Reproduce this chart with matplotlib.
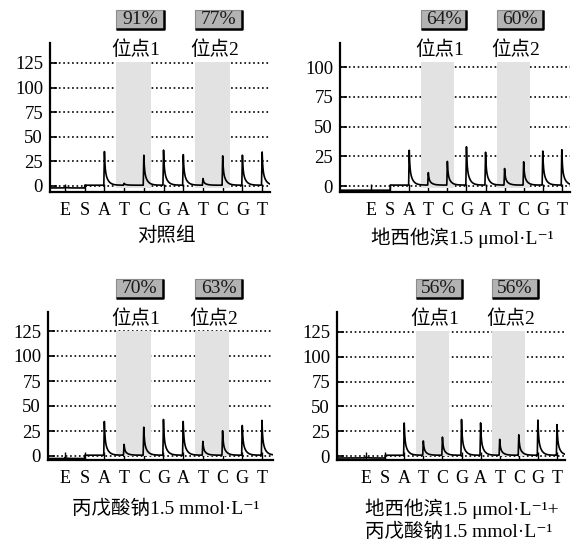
import numpy as np
import matplotlib
matplotlib.use('Agg')
import matplotlib.pyplot as plt
from matplotlib.patches import Rectangle
import matplotlib.transforms as mtransforms

plt.rcParams['font.family'] = ['Liberation Serif', 'Noto Sans CJK SC', 'DejaVu Serif']

# Dispensation order and peak heights
dispensations = ['E', 'S', 'A', 'T', 'C', 'G', 'A', 'T', 'C', 'G', 'T']
peaks_ctrl = [1, 0, 35, 2, 31, 36, 32, 7, 30, 31, 35]
peaks_dac = [0, 0, 30, 11, 20, 33, 29, 14, 20, 30, 30]
peaks_vpa = [1, 0, 34, 11, 29, 36, 35, 14, 25, 31, 35]
peaks_combo = [1, 0, 33, 15, 19, 37, 33, 16, 21, 37, 32]
pre_levels = [-2, -3.5, -2.5, -2]

site1_pct = ['91%', '64%', '70%', '56%']
site2_pct = ['77%', '60%', '63%', '56%']
site_labels = ['位点1', '位点2']
site_idx = [(3, 4), (7, 8)]   # T,C pairs in the dispensation order

yticks_ctrl = [0, 25, 50, 75, 100, 125]
yticks_dac = [0, 25, 50, 75, 100]
captions = ['对照组',
            '地西他滨1.5 μmol·L⁻¹',
            '丙戊酸钠1.5 mmol·L⁻¹',
            '地西他滨1.5 μmol·L⁻¹+\n丙戊酸钠1.5 mmol·L⁻¹']

all_peaks = [peaks_ctrl, peaks_dac, peaks_vpa, peaks_combo]
all_yticks = [yticks_ctrl, yticks_dac, yticks_ctrl, yticks_ctrl]

# layout in pixels: (left, top, right, bottom), xlim, ylim
W, H = 574, 547
boxes = [(50, 43, 270, 192), (340, 43, 570, 192), (48, 312, 273, 460), (337, 312, 565, 460)]
xlims = [(-0.76, 10.4), (-1.63, 10.43), (-0.86, 10.56), (-1.52, 10.42)]
ylims = [(-6.1, 145.3), (-5.0, 120.2), (-4.0, 144.0), (-4.0, 145.0)]
cap_pos = [(166, 236, 'center'), (462, 238, 'center'), (166, 509, 'center'), (365, 520, 'left')]


def pyro_trace(x, heights, pre_level):
    y = np.where(x < 1, pre_level, 0.8)
    for k, h in enumerate(heights):
        d = x - k
        rise = np.where(d < 0, np.clip((d + 0.03) / 0.03, 0, 1), 0)
        tail = np.where(d >= 0, 0.5 * np.exp(-d / 0.03) + 0.5 * np.exp(-d / 0.15), 0)
        y = y + h * (rise + tail)
    return y


fig = plt.figure(figsize=(W / 100, H / 100), dpi=100)

for p in range(4):
    l, t, r, b = boxes[p]
    ax = fig.add_axes([l / W, 1 - b / H, (r - l) / W, (b - t) / H])
    ax.set_xlim(*xlims[p])
    ax.set_ylim(*ylims[p])

    x = np.linspace(xlims[p][0], xlims[p][1], 3000)
    ax.plot(x, pyro_trace(x, all_peaks[p], pre_levels[p]), color='black', lw=1.2, zorder=3)

    # shaded sites, labels and percentage boxes
    trans = mtransforms.blended_transform_factory(ax.transData, ax.transAxes)
    pcts = [site1_pct[p], site2_pct[p]]
    for s, (i0, i1) in enumerate(site_idx):
        x0, x1 = i0 - 0.4, i1 + 0.35
        ax.axvspan(x0, x1, ymin=0.03, ymax=0.87, color='#e2e2e2', lw=0, zorder=1.5)
        ax.text((x0 + x1) / 2 + 0.1, 0.953, site_labels[s], transform=trans,
                ha='center', va='center', fontsize=14, zorder=4)
        bw = 2.4
        ax.add_patch(Rectangle((x0, 1.094), bw, 0.127, transform=trans, clip_on=False,
                               facecolor='#b3b3b3', edgecolor='#8c8c8c', lw=0.8))
        ax.plot([x0, x0 + bw, x0 + bw], [1.094, 1.094, 1.221], transform=trans,
                clip_on=False, color='black', lw=1.8, solid_capstyle='butt')
        ax.text(x0 + bw / 2, 1.158, pcts[s], transform=trans, ha='center', va='center',
                fontsize=14, color='#1a1a1a')

    ax.set_yticks(all_yticks[p])
    ax.set_xticks(range(len(dispensations)))
    ax.set_xticklabels(dispensations)
    ax.yaxis.grid(True, linestyle=':', color='black', lw=1.2)
    ax.set_axisbelow(True)
    ax.tick_params(axis='y', direction='in', length=5, width=1.2, labelsize=13.5, pad=5)
    ax.tick_params(axis='x', direction='in', length=6, width=1, labelsize=13, pad=7)
    for side in ['top', 'right']:
        ax.spines[side].set_visible(False)
    ax.spines['left'].set_linewidth(1.6)
    ax.spines['bottom'].set_linewidth(1.6)

    cx, cy, ha = cap_pos[p]
    fig.text(cx / W, 1 - cy / H, captions[p], ha=ha, va='center', fontsize=14,
             linespacing=1.25, multialignment='left')

fig.savefig('out.png', dpi=100)
